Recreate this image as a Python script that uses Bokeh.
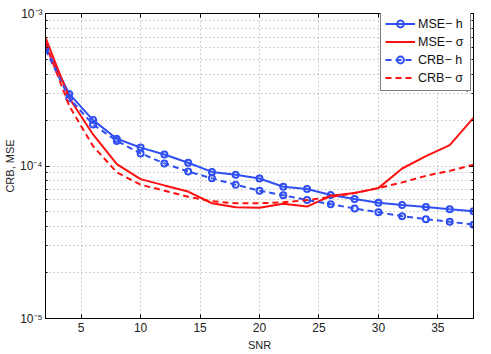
import numpy as np
from bokeh.plotting import figure
from bokeh.models import (LogAxis, LinearAxis, Legend, LegendItem, FixedTicker,
                          Range1d, Label)
from bokeh.embed import file_html
from bokeh.resources import INLINE

snr = [2, 4, 6, 8, 10, 12, 14, 16, 18, 20, 22, 24, 26, 28, 30, 32, 34, 36, 38]
mse_h = [6.05e-4, 2.97e-4, 2.0e-4, 1.51e-4, 1.32e-4, 1.19e-4, 1.05e-4, 9.15e-5,
         8.75e-5, 8.28e-5, 7.31e-5, 7.06e-5, 6.45e-5, 6.08e-5, 5.75e-5, 5.55e-5,
         5.39e-5, 5.21e-5, 5.05e-5]
mse_sigma = [6.94e-4, 2.79e-4, 1.61e-4, 1.03e-4, 8.2e-5, 7.46e-5, 6.8e-5, 5.7e-5,
             5.37e-5, 5.33e-5, 5.66e-5, 5.42e-5, 6.38e-5, 6.65e-5, 7.16e-5,
             9.63e-5, 1.16e-4, 1.37e-4, 2.07e-4]
crb_h = [5.8e-4, 2.78e-4, 1.87e-4, 1.46e-4, 1.21e-4, 1.04e-4, 9.2e-5, 8.3e-5,
         7.53e-5, 6.89e-5, 6.43e-5, 5.98e-5, 5.61e-5, 5.26e-5, 4.98e-5, 4.69e-5,
         4.48e-5, 4.31e-5, 4.12e-5]
crb_sigma = [6.4e-4, 2.47e-4, 1.35e-4, 9.08e-5, 7.54e-5, 6.89e-5, 6.29e-5, 5.87e-5,
             5.7e-5, 5.7e-5, 5.78e-5, 5.98e-5, 6.26e-5, 6.65e-5, 7.16e-5, 7.81e-5,
             8.62e-5, 9.29e-5, 1.02e-4]

x_ticks = [5, 10, 15, 20, 25, 30, 35]
y_ticks = [1e-5, 1e-4, 1e-3]
y_tick_labels = ["10\u207b\u2075", "10\u207b\u2074", "10\u207b\u00b3"]
y_minor = [k * 1e-5 for k in range(2, 10)] + [k * 1e-4 for k in range(2, 10)]

legend_labels = ["MSE\u2212 h", "MSE\u2212 \u03c3", "CRB\u2212 h", "CRB\u2212 \u03c3"]
subscript = "\u03b7"

BLUE = "#2f4ff2"
RED = "#ff1010"
FONT = "Liberation Sans"

p = figure(width=483, height=353, x_range=Range1d(2, 38), y_range=Range1d(1e-5, 1e-3),
           y_axis_type="log", output_backend="svg", toolbar_location=None,
           min_border_left=10, min_border_right=10, min_border_top=13,
           min_border_bottom=10, background_fill_color="white",
           border_fill_color="white")
p.outline_line_color = "black"

xt = FixedTicker(ticks=x_ticks)
yt = FixedTicker(ticks=y_ticks, minor_ticks=y_minor)
p.xaxis.ticker = xt
p.yaxis.ticker = yt
p.yaxis.major_label_overrides = {v: s for v, s in zip(y_ticks, y_tick_labels)}

for ax in (p.xaxis[0], p.yaxis[0]):
    ax.major_tick_in = 4
    ax.major_tick_out = 0
    ax.minor_tick_in = 2
    ax.minor_tick_out = 0
    ax.major_label_text_font = FONT
    ax.major_label_text_font_size = "12px"
    ax.major_label_text_color = "#222222"
    ax.axis_label_text_font = FONT
    ax.axis_label_text_font_size = "11px"
    ax.axis_label_text_font_style = "normal"
    ax.axis_label_text_color = "#222222"
    ax.axis_line_color = "black"
p.xaxis.major_label_standoff = 4
p.xaxis.axis_label_standoff = 4
p.yaxis.major_label_standoff = 3
p.yaxis.axis_label_standoff = 1
p.xaxis.axis_label = "SNR"
p.yaxis.axis_label = "CRB, MSE"
p.xaxis.minor_tick_line_color = None

top = LinearAxis(ticker=xt, major_label_overrides={t: "" for t in x_ticks},
                 major_tick_in=4, major_tick_out=0, minor_tick_line_color=None,
                 axis_line_color="black", major_label_standoff=0)
right = LogAxis(ticker=yt, major_label_overrides={t: "" for t in y_ticks},
                major_tick_in=4, major_tick_out=0, minor_tick_in=2, minor_tick_out=0,
                axis_line_color="black", major_label_standoff=0)
p.add_layout(top, "above")
p.add_layout(right, "right")

for g in (p.xgrid[0], p.ygrid[0]):
    g.grid_line_color = "#a4a4a4"
    g.grid_line_dash = "1 3"
    g.grid_line_width = 1
p.xgrid.ticker = xt
p.ygrid.ticker = yt
p.ygrid.minor_grid_line_color = "#a4a4a4"
p.ygrid.minor_grid_line_dash = "1 3"

l1 = p.line(snr, mse_h, line_color=BLUE, line_width=2)
m1 = p.scatter(snr, mse_h, marker="circle", size=6, line_color=BLUE, line_width=2,
               fill_alpha=0)
l2 = p.line(snr, mse_sigma, line_color=RED, line_width=2)
l3 = p.line(snr, crb_h, line_color=BLUE, line_width=2, line_dash="6 4")
m3 = p.scatter(snr, crb_h, marker="circle", size=6, line_color=BLUE, line_width=2,
               fill_alpha=0)
l4 = p.line(snr, crb_sigma, line_color=RED, line_width=2, line_dash="6 4")

legend = Legend(items=[
    LegendItem(label=legend_labels[0], renderers=[l1, m1]),
    LegendItem(label=legend_labels[1], renderers=[l2]),
    LegendItem(label=legend_labels[2], renderers=[l3, m3]),
    LegendItem(label=legend_labels[3], renderers=[l4]),
], location=(335, 227))
legend.label_text_font = FONT
legend.label_text_font_size = "12.5px"
legend.label_text_color = "#111111"
legend.border_line_color = "black"
legend.border_line_width = 1
legend.background_fill_alpha = 1
legend.margin = 0
legend.padding = 4
legend.spacing = 1
legend.glyph_width = 30
legend.glyph_height = 17
legend.label_standoff = 3
legend.label_width = 48
legend.label_height = 17
p.add_layout(legend)

for yy in (5.57e-4, 3.30e-4):
    p.add_layout(Label(x=37.1, y=yy, text=subscript, text_font_size="10px",
                       text_baseline="middle", text_color="#111111",
                       level="overlay"))

open("out.html", "w").write(file_html(p, INLINE))
